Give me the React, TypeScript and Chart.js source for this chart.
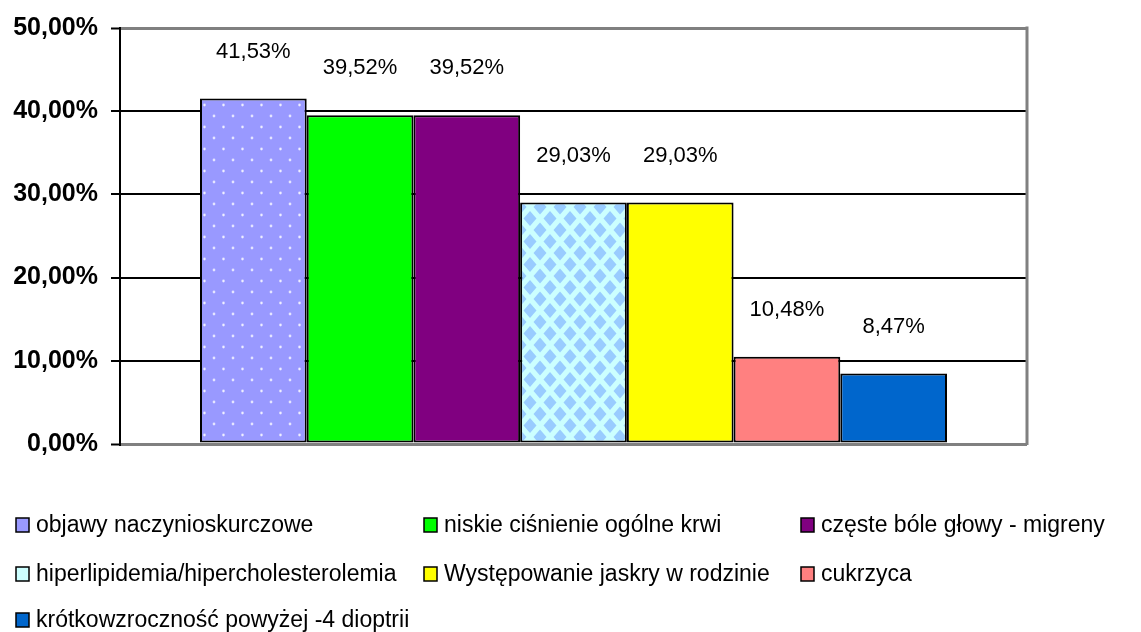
import React, { useEffect, useRef } from "react";
import { Chart, registerables } from "chart.js";

Chart.register(...registerables);

const categories = [""];
const seriesLabels = [
  "objawy naczynioskurczowe",
  "niskie ciśnienie ogólne krwi",
  "częste bóle głowy - migreny",
  "hiperlipidemia/hipercholesterolemia",
  "Występowanie jaskry w rodzinie",
  "cukrzyca",
  "krótkowzroczność powyżej -4 dioptrii",
];
const seriesValues = [41.53, 39.52, 39.52, 29.03, 29.03, 10.48, 8.47];
const seriesColors = ["#9999FF", "#00FF00", "#800080", "#CCFFFF", "#FFFF00", "#FF8080", "#0066CC"];
const yTicks = [0, 10, 20, 30, 40, 50];

const FONT = "'Liberation Sans', Arial, sans-serif";
const fmt = (v: number) => v.toFixed(2).replace(".", ",") + "%";

function dotPattern(): CanvasPattern | string {
  const c = document.createElement("canvas");
  c.width = 19;
  c.height = 22;
  const g = c.getContext("2d");
  if (!g) return "#9999FF";
  g.fillStyle = "#9999FF";
  g.fillRect(0, 0, 19, 22);
  g.fillStyle = "#DDDDFF";
  g.beginPath();
  g.arc(5, 6, 1.4, 0, Math.PI * 2);
  g.arc(14.5, 17, 1.4, 0, Math.PI * 2);
  g.fill();
  g.fillStyle = "#FFFFFF";
  g.fillRect(4.5, 5.5, 1, 1);
  g.fillRect(14, 16.5, 1, 1);
  return g.createPattern(c, "repeat") || "#9999FF";
}

function diamondPattern(): CanvasPattern | string {
  const w = 20, h = 23;
  const c = document.createElement("canvas");
  c.width = w;
  c.height = h;
  const g = c.getContext("2d");
  if (!g) return "#CCFFFF";
  g.fillStyle = "#CCFFFF";
  g.fillRect(0, 0, w, h);
  g.fillStyle = "#99CCFF";
  const centers = [[w / 2, h / 2], [0, 0], [w, 0], [0, h], [w, h]];
  for (const [cx, cy] of centers) {
    g.beginPath();
    g.moveTo(cx, cy - 7.5);
    g.lineTo(cx + 6.5, cy);
    g.lineTo(cx, cy + 7.5);
    g.lineTo(cx - 6.5, cy);
    g.closePath();
    g.fill();
  }
  return g.createPattern(c, "repeat") || "#CCFFFF";
}

const legendCols = [16, 424, 801];
const legendRowOffsets = [81, 130, 176];

export default function App() {
  const ref = useRef<HTMLCanvasElement | null>(null);
  useEffect(() => {
    if (!ref.current) return;
    const fills: (string | CanvasPattern)[] = seriesColors.slice();
    fills[0] = dotPattern();
    fills[3] = diamondPattern();

    const framePlugin = {
      id: "frame",
      beforeDatasetsDraw(chart: any) {
        const { ctx, chartArea } = chart;
        ctx.save();
        ctx.strokeStyle = "#808080";
        ctx.lineWidth = 3;
        ctx.beginPath();
        ctx.moveTo(chartArea.right, chartArea.top - 1.5);
        ctx.lineTo(chartArea.right, chartArea.bottom + 1);
        ctx.stroke();
        ctx.restore();
      },
    };

    const labelPlugin = {
      id: "valueLabels",
      afterDatasetsDraw(chart: any) {
        const { ctx } = chart;
        ctx.save();
        ctx.font = `22px ${FONT}`;
        ctx.fillStyle = "#000";
        ctx.textAlign = "center";
        ctx.textBaseline = "middle";
        chart.data.datasets.forEach((ds: any, i: number) => {
          const meta = chart.getDatasetMeta(i);
          meta.data.forEach((el: any, j: number) => {
            ctx.fillText(fmt(ds.data[j]), el.x, el.y - 47);
          });
        });
        ctx.restore();
      },
    };

    const legendPlugin = {
      id: "gridLegend",
      afterDraw(chart: any) {
        const { ctx, chartArea } = chart;
        ctx.save();
        ctx.font = `23px ${FONT}`;
        ctx.textBaseline = "middle";
        ctx.textAlign = "left";
        seriesLabels.forEach((lab, i) => {
          const col = i % 3;
          const row = Math.floor(i / 3);
          const x = legendCols[col];
          const y = chartArea.bottom + legendRowOffsets[row];
          ctx.fillStyle = seriesColors[i];
          ctx.fillRect(x, y - 7, 13, 14);
          ctx.strokeStyle = "#000";
          ctx.lineWidth = 1.5;
          ctx.strokeRect(x, y - 7, 13, 14);
          ctx.fillStyle = "#000";
          ctx.fillText(lab, x + 20, y + 1);
        });
        ctx.restore();
      },
    };

    const chart = new Chart(ref.current, {
      type: "bar",
      data: {
        labels: categories,
        datasets: seriesLabels.map((lab, i) => ({
          label: lab,
          data: [seriesValues[i]],
          backgroundColor: fills[i] as any,
          borderColor: "#000",
          borderWidth: 2,
          borderSkipped: false,
          categoryPercentage: 0.8236,
          barPercentage: 1,
        })),
      },
      options: {
        responsive: false,
        animation: false,
        layout: { padding: { left: 0, top: 27, right: 114, bottom: 188 } },
        plugins: {
          legend: { display: false },
          tooltip: { enabled: false },
        },
        scales: {
          x: { display: false },
          y: {
            min: 0,
            max: 50,
            afterBuildTicks: (scale: any) => {
              scale.ticks = yTicks.map((v) => ({ value: v }));
            },
            afterFit: (scale: any) => {
              scale.width = 120;
            },
            border: { display: true, color: "#000", width: 2 },
            grid: {
              color: (c: any) => (c.tick && (c.tick.value === 0 || c.tick.value === 50) ? "#808080" : "#000"),
              lineWidth: (c: any) => (c.tick && (c.tick.value === 0 || c.tick.value === 50) ? 3 : 2),
              tickColor: "#000",
              tickWidth: 2,
              tickLength: 9,
              drawTicks: true,
            },
            ticks: {
              color: "#000",
              padding: 13,
              font: { family: FONT, size: 25, weight: "bold" },
              callback: (v: any) => fmt(Number(v)),
            },
          },
        },
      },
      plugins: [framePlugin, labelPlugin, legendPlugin],
    });
    return () => chart.destroy();
  }, []);

  return (
    <div style={{ position: "absolute", left: 0, top: 0, width: 1141, height: 632, background: "#fff" }}>
      <canvas ref={ref} width={1141} height={632} />
    </div>
  );
}
